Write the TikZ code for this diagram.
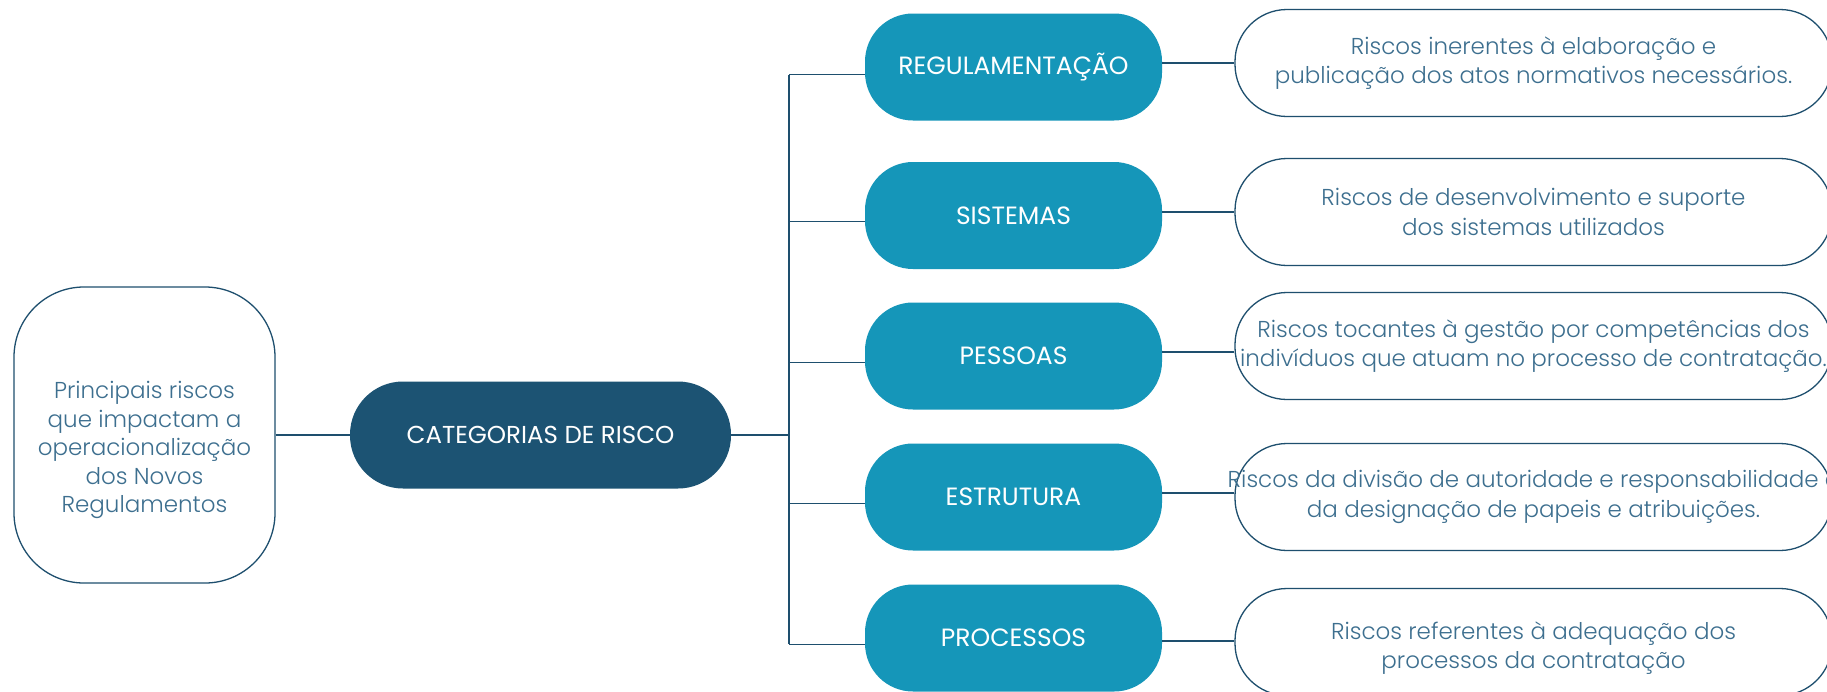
\documentclass[tikz,border=0pt]{standalone}
\usepackage{fontspec}
\setmainfont{Poppins}[UprightFont=* Light, BoldFont=* Regular]
\definecolor{catfill}{HTML}{1596B9}
\definecolor{mainfill}{HTML}{1C5373}
\definecolor{edgec}{HTML}{1E4F6E}
\definecolor{txtc}{HTML}{3D6F8F}
\newcommand{\lowertext}[2]{\raisebox{-#1}[\height][\depth]{\begin{tabular}{@{}c@{}}#2\end{tabular}}}
\tikzset{
  conn/.style={draw=edgec, line width=1.3pt},
  leftbox/.style={draw=edgec, line width=1.3pt, rounded corners=70pt, minimum width=261pt, minimum height=296pt, text=txtc, align=center, inner sep=0pt, font=\fontsize{23}{28.5}\selectfont},
  mainbox/.style={fill=mainfill, rounded corners=53pt, minimum width=381pt, minimum height=107pt, text=white, inner sep=0pt, font=\fontsize{24.5}{28}\selectfont\bfseries},
  catbox/.style={fill=catfill, rounded corners=48pt, minimum width=297pt, minimum height=107pt, text=white, inner sep=0pt, font=\fontsize{25}{28}\selectfont\bfseries},
  descbox/.style={draw=edgec, line width=1.3pt, rounded corners=52pt, minimum width=597pt, minimum height=107pt, text=txtc, align=center, inner sep=0pt, font=\fontsize{23}{29.5}\selectfont},
}
\begin{document}
\begin{tikzpicture}[x=1pt, y=-1pt]
\useasboundingbox (0,0) rectangle (1827,691);
\fill[white] (0,0) rectangle (1827,691);

\node[leftbox] (left) at (144.5,435) {\lowertext{15pt}{Principais riscos\\que impactam a\\operacionalização\\dos Novos\\Regulamentos}};
\node[mainbox] (main) at (540.5,435) {CATEGORIAS DE RISCO};

\node[catbox] (c1) at (1013.5,67) {REGULAMENTAÇÃO};
\node[catbox] (c2) at (1013.5,215.5) {SISTEMAS};
\node[catbox] (c3) at (1013.5,356) {PESSOAS};
\node[catbox] (c4) at (1013.5,497) {ESTRUTURA};
\node[catbox] (c5) at (1013.5,638) {PROCESSOS};

\node[descbox] (d1) at (1533.5,63) {Riscos inerentes à elaboração e\\publicação dos atos normativos necessários.};
\node[descbox] (d2) at (1533.5,212) {Riscos de desenvolvimento e suporte\\dos sistemas utilizados};
\node[descbox] (d3) at (1533.5,346) {Riscos tocantes à gestão por competências dos\\indivíduos que atuam no processo de contratação.};
\node[descbox] (d4) at (1533.5,497) {\hbox to 0pt{\hss Riscos da divisão de autoridade e responsabilidade e\hss}\\da designação de papeis e atribuições.};
\node[descbox] (d5) at (1533.5,642) {\lowertext{6pt}{Riscos referentes à adequação dos\\processos da contratação}};

\coordinate (bus) at (789,435);
\coordinate (b1) at (789,74.6);
\coordinate (b5) at (789,644.4);

\draw[conn] (left.east |- main) -- (main.west);
\draw[conn] (main.east) -- (bus);
\draw[conn] (b1) -- (b5);
\draw[conn] (b1) -- (c1.west |- b1);
\draw[conn] (789,221.4) -- (c2.west |- 0,221.4);
\draw[conn] (789,362.4) -- (c3.west |- 0,362.4);
\draw[conn] (789,503.4) -- (c4.west |- 0,503.4);
\draw[conn] (b5) -- (c5.west |- b5);

\draw[conn] (c1.east |- 0,63) -- (d1.west |- 0,63);
\draw[conn] (c2.east |- 0,212) -- (d2.west |- 0,212);
\draw[conn] (c3.east |- 0,352) -- (d3.west |- 0,352);
\draw[conn] (c4.east |- 0,493) -- (d4.west |- 0,493);
\draw[conn] (c5.east |- 0,641) -- (d5.west |- 0,641);
\end{tikzpicture}
\end{document}
